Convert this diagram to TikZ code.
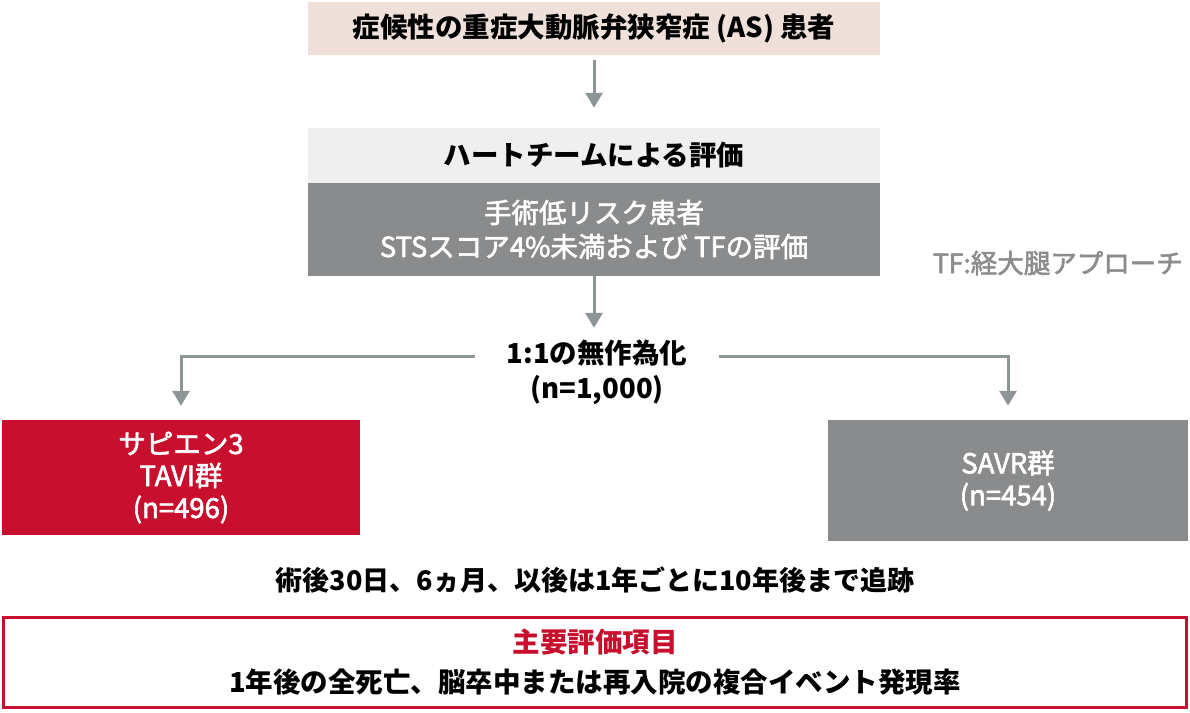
\documentclass[tikz,border=0pt]{standalone}
\usepackage{fontspec}
\setmainfont{Noto Sans CJK JP}
\newfontfamily\medfont{Noto Sans CJK JP}[FakeBold=2.2]
\usetikzlibrary{arrows.meta}
\definecolor{pinkbg}{HTML}{EFE1DA}
\definecolor{lightbg}{HTML}{EFEFEF}
\definecolor{midgray}{HTML}{898B8C}
\definecolor{arrowgray}{HTML}{8D9597}
\definecolor{accred}{HTML}{C8102E}
\definecolor{notegray}{HTML}{8C8C8C}
\begin{document}
\begin{tikzpicture}[x=1pt,y=-1pt,
  box/.style={rectangle, inner sep=0pt, align=center},
  hdr/.style={font=\bfseries\fontsize{27.5}{32}\selectfont},
  wtxt/.style={text=white},
  arr/.style={draw=arrowgray, line width=3pt, -{Triangle[width=17pt,length=15pt]}},
]
\useasboundingbox (0,0) rectangle (1190,712);
\node[box, hdr, fill=pinkbg, minimum width=572pt, minimum height=53pt] (top) at (594,28.5) {症候性の重症大動脈弁狭窄症 (AS) 患者};
\node[box, hdr, fill=lightbg, minimum width=572pt, minimum height=55pt] (team) at (594,155.5) {ハートチームによる評価};
\node[box, fill=midgray, wtxt, font=\medfont\fontsize{27.5}{34}\selectfont, minimum width=572pt, minimum height=93pt] (low) at (594,229.5) {手術低リスク患者\\STSスコア4\%未満および TFの評価};
\node[box, font=\bfseries\fontsize{27.5}{35}\selectfont, minimum width=244pt, minimum height=88pt] (rand) at (597,372) {1:1の無作為化\\(n=1,000)};
\node[box, fill=accred, wtxt, font=\medfont\fontsize{27.5}{32}\selectfont, minimum width=358pt, minimum height=115pt] (tavi) at (181,477.5) {サピエン3\\TAVI群\\(n=496)};
\node[box, fill=midgray, wtxt, font=\medfont\fontsize{27.5}{32}\selectfont, minimum width=360pt, minimum height=121pt] (savr) at (1008,480.5) {SAVR群\\(n=454)};
\node[box, hdr, font=\bfseries\fontsize{27}{32}\selectfont] (follow) at (595,580) {術後30日、6ヵ月、以後は1年ごとに10年後まで追跡};
\node[box, draw=accred, line width=2.5pt, minimum width=1183pt, minimum height=90pt, font=\bfseries\fontsize{27.5}{40}\selectfont] (endpt) at (595,662.5) {\textcolor{accred}{主要評価項目}\\1年後の全死亡、脳卒中または再入院の複合イベント発現率};
\node[box, anchor=east, text=notegray, font=\medfont\fontsize{26.5}{30}\selectfont] (tfnote) at (1183,263) {TF:経大腿アプローチ};
\draw[arr, shorten <=5pt, shorten >=20pt] (top) -- (team);
\draw[arr] (low.south) -- (low.south |- rand.north);
\draw[arr, shorten >=14pt] ([yshift=16pt]rand.west) -| (tavi.north);
\draw[arr, shorten >=14pt] ([yshift=16pt]rand.east) -| (savr.north);
\end{tikzpicture}
\end{document}
